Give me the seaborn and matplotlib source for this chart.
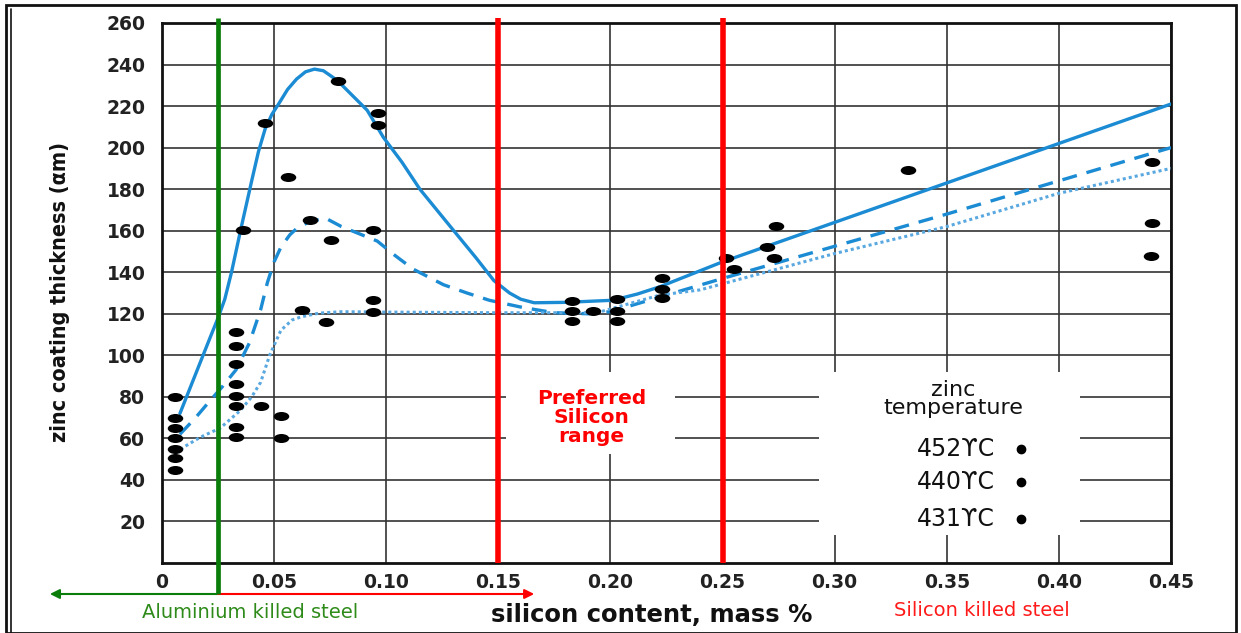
import numpy as np
import pandas as pd
import matplotlib
matplotlib.use("Agg")
import matplotlib.pyplot as plt
import matplotlib.path as mpath
import matplotlib.transforms as mtrans
from matplotlib.patches import Rectangle
import seaborn as sns

# ---------------- data ----------------
x_ticks = [0, 0.05, 0.10, 0.15, 0.20, 0.25, 0.30, 0.35, 0.40, 0.45]
x_tick_labels = ["0", "0.05", "0.10", "0.15", "0.20", "0.25", "0.30", "0.35", "0.40", "0.45"]
y_ticks = [20, 40, 60, 80, 100, 120, 140, 160, 180, 200, 220, 240, 260]

# measured points (silicon %, thickness)
pts_x = [0.006, 0.006, 0.006, 0.006, 0.006, 0.006, 0.006,
         0.033, 0.033, 0.033, 0.033, 0.033, 0.033, 0.033, 0.033,
         0.036, 0.044, 0.046, 0.053, 0.053, 0.056,
         0.0625, 0.066, 0.073, 0.0755, 0.0785,
         0.094, 0.094, 0.094, 0.0965, 0.0965,
         0.183, 0.183, 0.183, 0.192, 0.203, 0.203, 0.203,
         0.223, 0.223, 0.223, 0.2515, 0.255,
         0.270, 0.273, 0.274, 0.3326, 0.4415, 0.4415, 0.441]
pts_y = [80, 70, 65, 60, 55, 50.5, 45,
         111, 104.5, 96, 86, 80.5, 75.5, 65.5, 60.5,
         160.5, 75.5, 212, 71, 60, 186,
         122, 165, 116, 155.5, 232,
         160.5, 126.5, 121, 216.5, 211,
         126, 121.3, 116.5, 121.3, 127, 121.3, 116.5,
         137, 132, 127.5, 147, 141.5,
         152, 147, 162.5, 189, 193, 163.5, 148]

# fitted curves for the three zinc temperatures
c452_x = [0.008, 0.015, 0.022, 0.025, 0.028, 0.031, 0.035, 0.040, 0.043, 0.046, 0.049,
          0.052, 0.056, 0.060, 0.064, 0.068, 0.072, 0.076, 0.0785, 0.085, 0.0915,
          0.0987, 0.107, 0.115, 0.1286, 0.140, 0.148, 0.155, 0.160, 0.166, 0.180,
          0.201, 0.212, 0.222, 0.25, 0.30, 0.35, 0.40, 0.45]
c452_y = [72, 91, 110, 118, 127, 140, 160, 184, 198, 209, 216,
          221, 228, 233, 236.5, 237.8, 237, 234, 232, 225, 218,
          205, 193, 180, 162, 147, 136, 130, 127, 125.3, 125.5,
          126.5, 129.5, 133, 145, 164, 183, 202, 221]

c440_x = [0.008, 0.015, 0.0205, 0.027, 0.033, 0.039, 0.044, 0.047, 0.050, 0.053, 0.057,
          0.060, 0.066, 0.073, 0.080, 0.088, 0.096, 0.104, 0.112, 0.1255, 0.136, 0.146,
          0.161, 0.175, 0.19, 0.20, 0.25, 0.30, 0.35, 0.40, 0.45]
c440_y = [62, 70, 77, 85, 93, 106, 122, 135, 145, 152, 158,
          161, 164.5, 166, 162, 158.5, 155, 148, 141.5, 134, 130, 126.5,
          123, 120.5, 120, 121, 137, 152.5, 168, 184, 200]

c431_x = [0.006, 0.010, 0.017, 0.026, 0.035, 0.040, 0.044, 0.048, 0.053, 0.058, 0.062,
          0.070, 0.080, 0.10, 0.15, 0.194, 0.222, 0.24, 0.30, 0.35, 0.40, 0.45]
c431_y = [53, 56, 60.5, 65, 73.5, 80, 87, 100, 112, 117, 118.5,
          120.3, 121, 120.8, 120.5, 120.5, 129, 131.5, 149, 162, 178, 190]

legend_labels = ["452\u03d2C", "440\u03d2C", "431\u03d2C"]
legend_y = [55, 39, 21.2]

# ---------------- style ----------------
sns.set_theme(style="white")
plt.rcParams["font.family"] = ["DejaVu Sans"]

W, H = 1241, 633
fig = plt.figure(figsize=(W / 100, H / 100), dpi=100)
L, R, T, B = 162, 1171, 23, 563
ax = fig.add_axes([L / W, 1 - B / H, (R - L) / W, (B - T) / H])
ax.set_xlim(0, 0.45)
ax.set_ylim(0, 260)

blue = "#1b8bd3"
grid_c = "#333333"

ax.set_axisbelow(True)
ax.set_xticks(x_ticks)
ax.set_xticklabels(x_tick_labels)
ax.set_yticks(y_ticks)
ax.grid(True, color=grid_c, linewidth=1.2, zorder=0)
ax.tick_params(length=0, labelsize=13.5, colors="#222222")
for lab in ax.get_xticklabels() + ax.get_yticklabels():
    lab.set_fontweight("heavy")
ax.tick_params(axis="x", pad=7)
ax.tick_params(axis="y", pad=12)
for sp in ax.spines.values():
    sp.set_color("#111111")
    sp.set_linewidth(2)

# white boxes behind annotation texts
ax.add_patch(Rectangle((0.1536, 52.5), 0.229 - 0.1536, 92 - 52.5, facecolor="white",
                       edgecolor="none", zorder=1))
ax.add_patch(Rectangle((0.2929, 13.5), 0.4094 - 0.2929, 92 - 13.5, facecolor="white",
                       edgecolor="none", zorder=1))

# curves
df452 = pd.DataFrame({"x": c452_x, "y": c452_y})
df440 = pd.DataFrame({"x": c440_x, "y": c440_y})
df431 = pd.DataFrame({"x": c431_x, "y": c431_y})
sns.lineplot(data=df452, x="x", y="y", ax=ax, color=blue, linewidth=2.4, sort=False,
             estimator=None, zorder=3)
ax.lines[-1].set_solid_joinstyle("round")
sns.lineplot(data=df440, x="x", y="y", ax=ax, color=blue, linewidth=2.4, sort=False,
             estimator=None, zorder=3)
ax.lines[-1].set_dashes([4.5, 3])
sns.lineplot(data=df431, x="x", y="y", ax=ax, color="#5aa8e0", linewidth=2.2, sort=False,
             estimator=None, zorder=3)
ax.lines[-1].set_dashes([1, 1])

# data points as small ellipses
ell = mpath.Path.unit_circle().transformed(mtrans.Affine2D().scale(1.0, 0.58))
dfp = pd.DataFrame({"x": pts_x, "y": pts_y})
sns.scatterplot(data=dfp, x="x", y="y", ax=ax, marker=ell, s=125, color="black",
                edgecolor="black", linewidth=0, zorder=4)

# vertical boundary lines
xt = ax.get_xaxis_transform()
ax.plot([0.025, 0.025], [1.009, -0.0574], transform=xt, color="#0a7d0a", linewidth=3.4,
        clip_on=False, zorder=5, solid_capstyle="butt")
for xv in (0.15, 0.25):
    ax.plot([xv, xv], [1.009, 0.0], transform=xt, color="#ff0000", linewidth=4.0,
            clip_on=False, zorder=5, solid_capstyle="butt")

# arrows under the axis
ax.annotate("", xy=(-0.05, -0.0574), xytext=(0.025, -0.0574), xycoords=xt, textcoords=xt,
            arrowprops=dict(arrowstyle="-|>", color="#0a7d0a", lw=1.5, mutation_scale=14,
                            shrinkA=0, shrinkB=0), annotation_clip=False)
ax.annotate("", xy=(0.166, -0.0574), xytext=(0.025, -0.0574), xycoords=xt, textcoords=xt,
            arrowprops=dict(arrowstyle="-|>", color="#ff0000", lw=1.5, mutation_scale=14,
                            shrinkA=0, shrinkB=0), annotation_clip=False)

# texts
ax.text(0.1915, 70, "Preferred\nSilicon\nrange", color="#ff0000", fontsize=14.5,
        fontweight="bold", ha="center", va="center", linespacing=0.98, zorder=6)
ax.text(0.353, 79, "zinc\ntemperature", color="#111111", fontsize=16, ha="center",
        va="center", linespacing=0.92, zorder=6, fontweight="medium")
for lab, yv in zip(legend_labels, legend_y):
    ax.text(0.3715, yv, lab, color="#111111", fontsize=17, ha="right", va="center", zorder=6)
    ax.plot([0.383], [yv], marker="o", markersize=6, color="black", zorder=6)

ax.set_xlabel("")
ax.set_ylabel("")
fig.text(60 / W, 1 - 292 / H, "zinc coating thickness (\u03b1m)", rotation=90,
         ha="center", va="center", fontsize=15.5, fontweight="bold", fontstretch="condensed",
         family=["DejaVu Sans"], color="#111111")
fig.text(652 / W, 1 - 615 / H, "silicon content, mass %", ha="center", va="center",
         fontsize=17.5, fontweight="heavy", color="#111111")
fig.text(250 / W, 1 - 613 / H, "Aluminium killed steel", ha="center", va="center",
         fontsize=14, color="#2e8b1a")
fig.text(982 / W, 1 - 611 / H, "Silicon killed steel", ha="center", va="center",
         fontsize=14, color="#ff1a1a")

# figure frame
fig.patches.append(Rectangle((6 / W, 0), (1236 - 6) / W, (H - 5) / H, transform=fig.transFigure,
                             fill=False, edgecolor="#111111", linewidth=2, zorder=10))
fig.lines.append(plt.Line2D([11 / W, 11 / W], [0, 1 - 9 / H], transform=fig.transFigure,
                            color="#111111", linewidth=1.2))

fig.savefig("out.png", dpi=100)
